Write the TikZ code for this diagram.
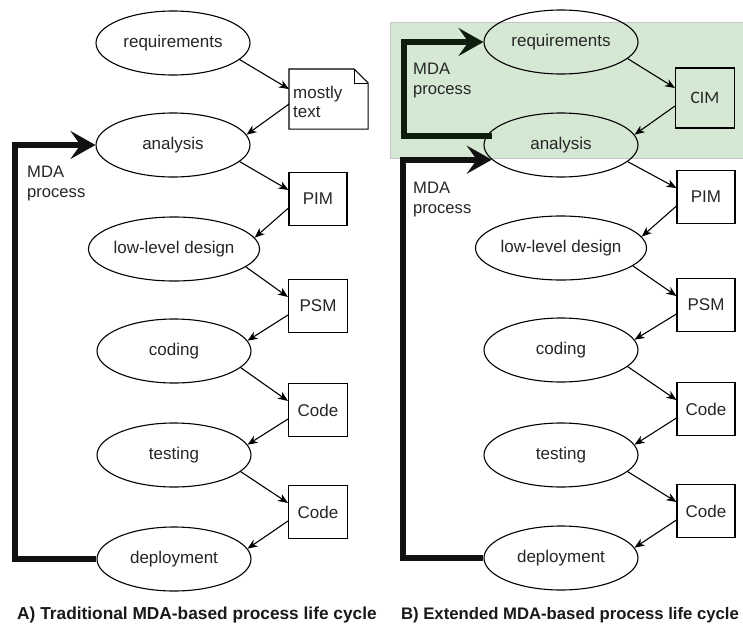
\documentclass[tikz,border=0pt]{standalone}
\usepackage{fontspec}
\setmainfont{Liberation Sans}
\newfontfamily\cimfont{Carlito}
\usetikzlibrary{arrows.meta,calc,shapes.geometric}
\definecolor{greenbg}{HTML}{D5E8D4}
\definecolor{thickc}{HTML}{111111}
\definecolor{thickg}{HTML}{0E1E0E}
\tikzset{
  phase/.style={ellipse,draw,line width=1.1pt,minimum width=154pt,minimum height=64pt,inner sep=0pt,font=\fontsize{17}{19}\selectfont,text=black!85},
  art/.style={rectangle,draw,line width=1.1pt,minimum height=53pt,inner sep=0pt,font=\fontsize{17}{19}\selectfont,text=black!85},
  flow/.style={line width=1.1pt,-{Stealth[length=10pt,width=8pt,inset=3pt]}},
  loopline/.style={line width=6pt,draw=thickc,line join=miter},
  looparrow/.style={loopline,-{Stealth[length=25pt,width=28pt,inset=10pt]}},
  mdalabel/.style={anchor=north west,inner sep=0pt,align=left,font=\fontsize{16.6}{19.5}\selectfont,text=black!85},
  caption/.style={font=\bfseries\fontsize{17.3}{20}\selectfont,text=black!90}
}
\begin{document}
\begin{tikzpicture}[x=1pt,y=-1pt]
\useasboundingbox[fill=white] (0,0) rectangle (743,624);

% green background region (panel B)
\node[draw=gray!45,fill=greenbg,line width=0.6pt,minimum width=353pt,minimum height=136pt,inner sep=0pt,anchor=north west] (green) at (390,22) {};

% ---------- Panel A ----------
\node[phase] (reqA) at (173,43) {requirements};
\node[phase] (anaA) at (173,145) {analysis};
\node[phase] (lldA) at (174,249) {low-level design};
\node[phase] (codA) at (174,351) {coding};
\node[phase] (tesA) at (174,455) {testing};
\node[phase] (depA) at (174,559) {deployment};

\node[art,minimum width=78pt,minimum height=59pt,draw=none,anchor=north west] (txtA) at (289,69) {};
\node[anchor=west,inner sep=0pt,align=left,font=\fontsize{17}{19.5}\selectfont,text=black!85] (txtAl) at (293,102) {mostly\\text};
\draw[line width=1.1pt] (txtA.north west) -- ($(txtA.north east)+(-14,0)$) -- ($(txtA.north east)+(0,14)$) -- (txtA.south east) -- (txtA.south west) -- cycle;
\draw[line width=0.9pt] ($(txtA.north east)+(-14,0)$) -- ($(txtA.north east)+(-14,14)$) -- ($(txtA.north east)+(0,14)$);
\node[art,minimum width=58pt] (pimA) at (318,199) {PIM};
\node[art,minimum width=59pt] (psmA) at (318,306) {PSM};
\node[art,minimum width=59pt] (cd1A) at (318,410) {Code};
\node[art,minimum width=59pt] (cd2A) at (318,512) {Code};

\draw[flow] (reqA.-14) -- ($(txtA.west)+(0,-10)$);
\draw[flow] ($(txtA.west)+(0,5)$) -- (anaA.8);
\draw[flow] (anaA.-14) -- ($(pimA.west)+(0,-9)$);
\draw[flow] ($(pimA.west)+(0,9)$) -- (lldA.8);
\draw[flow] (lldA.-14) -- ($(psmA.west)+(0,-9)$);
\draw[flow] ($(psmA.west)+(0,9)$) -- (codA.8);
\draw[flow] (codA.-14) -- ($(cd1A.west)+(0,-9)$);
\draw[flow] ($(cd1A.west)+(0,9)$) -- (tesA.8);
\draw[flow] (tesA.-14) -- ($(cd2A.west)+(0,-9)$);
\draw[flow] ($(cd2A.west)+(0,9)$) -- (depA.8);

\draw[looparrow] (depA.west) -- ++(-81,0) |- (anaA.west);
\node[mdalabel] (mdaA) at (27,166) {MDA\\process};

\node[caption] (capA) at (197,615) {A) Traditional MDA-based process life cycle};

% ---------- Panel B ----------
\node[phase] (reqB) at (561,42) {requirements};
\node[phase] (anaB) at (561,145) {analysis};
\node[phase] (lldB) at (561,248) {low-level design};
\node[phase] (codB) at (561,350) {coding};
\node[phase] (tesB) at (561,455) {testing};
\node[phase] (depB) at (561,558) {deployment};

\node[art,minimum width=59pt,minimum height=60pt,font=\cimfont\fontsize{17.5}{20}\selectfont] (cimB) at (705,98) {CIM};
\node[art,minimum width=58pt] (pimB) at (706,197) {PIM};
\node[art,minimum width=58pt] (psmB) at (706,305) {PSM};
\node[art,minimum width=58pt] (cd1B) at (706,409) {Code};
\node[art,minimum width=58pt] (cd2B) at (706,511) {Code};

\draw[flow] (reqB.-14) -- ($(cimB.west)+(0,-10)$);
\draw[flow] ($(cimB.west)+(0,8)$) -- (anaB.8);
\draw[flow] (anaB.-14) -- ($(pimB.west)+(0,-9)$);
\draw[flow] ($(pimB.west)+(0,9)$) -- (lldB.8);
\draw[flow] (lldB.-14) -- ($(psmB.west)+(0,-9)$);
\draw[flow] ($(psmB.west)+(0,9)$) -- (codB.8);
\draw[flow] (codB.-14) -- ($(cd1B.west)+(0,-9)$);
\draw[flow] ($(cd1B.west)+(0,9)$) -- (tesB.8);
\draw[flow] (tesB.-14) -- ($(cd2B.west)+(0,-9)$);
\draw[flow] ($(cd2B.west)+(0,9)$) -- (depB.8);

\coordinate (ulB) at (404,136);
\draw[looparrow,draw=thickg] (anaB.168 |- ulB) -- (ulB) |- (reqB.west);
\draw[looparrow] (depB.west) -- ++(-80,0) |- (anaB.192);

\node[mdalabel] (mdaB1) at (413,63) {MDA\\process};
\node[mdalabel] (mdaB2) at (413,182) {MDA\\process};

\node[caption,font=\bfseries\fontsize{16.7}{20}\selectfont] (capB) at (570,615) {B) Extended MDA-based process life cycle};
\end{tikzpicture}
\end{document}
